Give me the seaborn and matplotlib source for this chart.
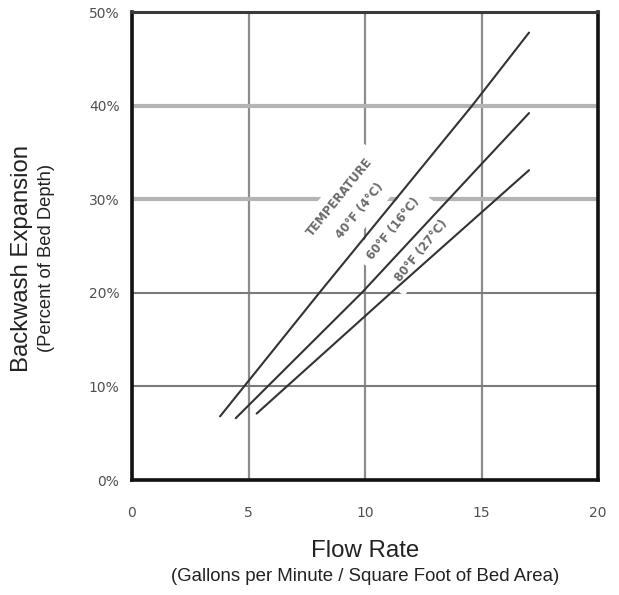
import numpy as np
import pandas as pd
import matplotlib
matplotlib.use("Agg")
import matplotlib.pyplot as plt
import seaborn as sns

# ---- data ----
flow_40 = [3.78, 8.04, 14.6, 17.04]
exp_40 = [6.8, 20.0, 40.0, 47.8]
flow_60 = [4.45, 9.86, 14.94, 17.04]
exp_60 = [6.6, 20.0, 33.6, 39.2]
flow_80 = [5.35, 11.07, 17.04]
exp_80 = [7.1, 19.9, 33.1]

series_names = ["40°F (4°C)", "60°F (16°C)", "80°F (27°C)"]
x_ticks = [0, 5, 10, 15, 20]
y_ticks = [0, 10, 20, 30, 40, 50]
y_tick_labels = ["0%", "10%", "20%", "30%", "40%", "50%"]

# label anchor positions (data units) for the curve labels
label_texts = ["TEMPERATURE", "40°F (4°C)", "60°F (16°C)", "80°F (27°C)"]
label_x = [8.93, 9.79, 11.21, 12.43]
label_y = [30.2, 28.8, 26.9, 24.5]

df = pd.concat([
    pd.DataFrame({"flow": flow_40, "exp": exp_40, "temp": series_names[0]}),
    pd.DataFrame({"flow": flow_60, "exp": exp_60, "temp": series_names[1]}),
    pd.DataFrame({"flow": flow_80, "exp": exp_80, "temp": series_names[2]}),
], ignore_index=True)

sns.set_style("white")
plt.rcParams["font.family"] = ["Liberation Sans", "DejaVu Sans"]

fig = plt.figure(figsize=(6.19, 5.95), dpi=100)
ax = fig.add_axes([132 / 619, 1 - 480 / 595, 466 / 619, 468 / 595])

sns.lineplot(data=df, x="flow", y="exp", hue="temp", sort=False,
             palette=["#333333"] * 3, linewidth=1.5, legend=False,
             ax=ax, zorder=4, estimator=None)

ax.set_xlim(0, 20)
ax.set_ylim(0, 50)
ax.set_xticks(x_ticks)
ax.set_yticks(y_ticks)
ax.set_yticklabels(y_tick_labels)
ax.tick_params(axis="both", length=0, labelcolor="#505050")
ax.tick_params(axis="y", pad=9)
ax.tick_params(axis="x", pad=19)
for lab in ax.get_xticklabels() + ax.get_yticklabels():
    lab.set_fontfamily("DejaVu Sans")
    lab.set_fontsize(10)

# grid
ax.set_axisbelow(True)
ax.grid(True, axis="both")
for gl in ax.xaxis.get_gridlines():
    gl.set_color("#8c8c8c")
    gl.set_linewidth(1.6)
for val, gl in zip(y_ticks, ax.yaxis.get_gridlines()):
    if val in (30, 40):
        gl.set_color("#b4b4b4")
        gl.set_linewidth(3.0)
    else:
        gl.set_color("#7a7a7a")
        gl.set_linewidth(1.5)

# frame
for side in ["left", "right", "bottom"]:
    ax.spines[side].set_color("#111111")
    ax.spines[side].set_linewidth(2.6)
ax.spines["top"].set_color("#3a3a3a")
ax.spines["top"].set_linewidth(2.2)

# curve labels
for t, lx, ly in zip(label_texts, label_x, label_y):
    ax.text(lx, ly, t, rotation=51, rotation_mode="anchor",
            ha="center", va="center", fontsize=8.5, fontweight="semibold",
            color="#6a6a6a", family="DejaVu Sans", zorder=3,
            bbox=dict(facecolor="white", edgecolor="none", pad=6))

# axis labels
ax.set_xlabel("Flow Rate", fontsize=17.3, color="#222222", va="center")
ax.xaxis.set_label_coords(0.5, -0.152)
ax.text(0.5, -0.207, "(Gallons per Minute / Square Foot of Bed Area)",
        transform=ax.transAxes, ha="center", va="center",
        fontsize=13.4, color="#222222")
ax.set_ylabel("Backwash Expansion", fontsize=17.2, color="#222222",
              va="center", ha="center")
ax.yaxis.set_label_coords(-0.236, 0.474)
ax.text(-0.183, 0.474, "(Percent of Bed Depth)", transform=ax.transAxes,
        rotation=90, ha="center", va="center", fontsize=13.2,
        color="#222222")

fig.savefig("out.png", dpi=100, facecolor="white")
